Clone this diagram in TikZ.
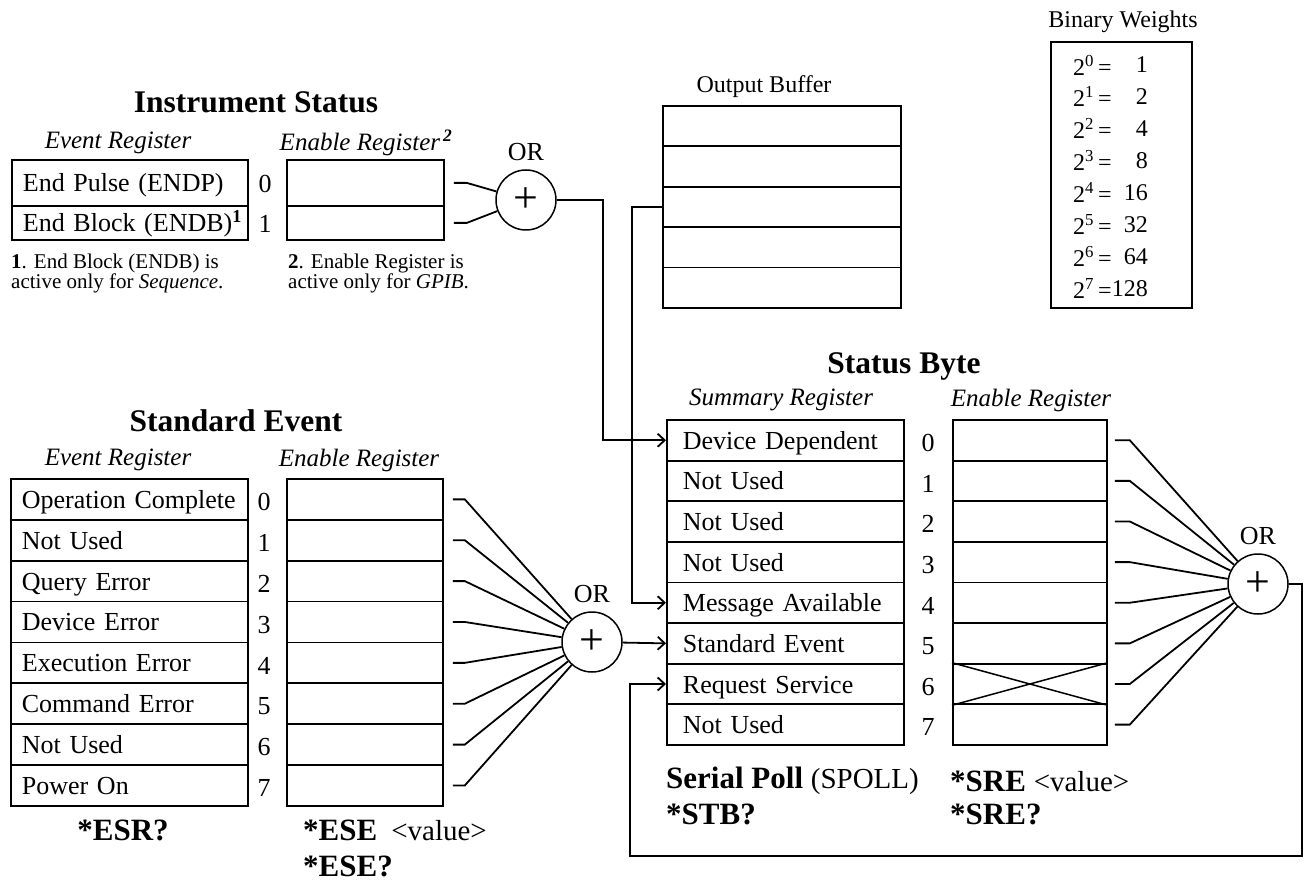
\documentclass[tikz,border=0pt]{standalone}
\usepackage{fontspec}
\setmainfont{Liberation Serif}
\usetikzlibrary{arrows.meta,positioning}

\newcommand\regfont{\fontsize{26}{28}\selectfont}
\newcommand\titlefont{\fontsize{31.5}{34}\selectfont\bfseries}
\newcommand\headfont{\fontsize{25}{28}\selectfont\itshape}
\newcommand\notefont{\fontsize{21}{20}\selectfont}
\newcommand\cmdfont{\fontsize{31}{38}\selectfont\bfseries}
\newcommand\cmdrm{\fontsize{29}{34}\selectfont\mdseries}
\newcommand\weightfont{\fontsize{24}{26}\selectfont}

\tikzset{
  namecell/.style 2 args={draw, line width=1.8pt, anchor=north west, font=\regfont,
    inner xsep=#2, inner ysep=0pt, text width=#1, align=left, minimum height=40.8pt,
    text height=20pt, text depth=2pt},
  blankcell/.style={draw, line width=1.8pt, anchor=north west, inner sep=0pt,
    minimum width=#1, minimum height=40.8pt},
  bitnum/.style={font=\regfont, inner sep=0pt},
  orgate/.style={circle, draw, line width=1.5pt, minimum size=60pt, inner sep=0pt,
    font=\fontsize{44}{44}\selectfont},
  orlabel/.style={font=\regfont, inner sep=0pt},
  wire/.style={line width=1.8pt},
  feed/.style={wire, -{Straight Barb[length=7pt,width=13pt]}},
  heading/.style={font=\titlefont, inner sep=0pt},
  regname/.style={font=\headfont, inner sep=0pt},
  note/.style={font=\notefont, align=left, anchor=north west, inner sep=0pt},
  command/.style={font=\cmdfont, anchor=west, inner sep=0pt},
  weight/.style={font=\weightfont, inner sep=0pt}
}

\begin{document}
\begin{tikzpicture}[x=1pt,y=-1pt]
            \useasboundingbox (0,0) rectangle (1306,882);

            \node[heading] (ishead) at (256,102) {Instrument Status};
            \node[regname] (isevname) at (118,143) {Event Register};
            \node[regname] (isenname) at (366,143) {Enable Register\textsuperscript{\,\textbf{2}}};
            \node[namecell={214pt}{11pt}, minimum height=46pt] (isev0) at (11,159) {\mbox{End Pulse (ENDP)}};
            \node[namecell={214pt}{11pt}, minimum height=34pt] (isev1) at (11,205) {\mbox{End Block (ENDB)\textsuperscript{\textbf{1}}}};
            \node[blankcell=157pt, minimum height=46pt] (isen0) at (286,159) {};
            \node[blankcell=157pt, minimum height=34pt] (isen1) at (286,205) {};
            \node[bitnum] (isn0) at (265,184) {0};
            \node[bitnum] (isn1) at (265,224) {1};
            \node[orgate] (isor) at (526,200) {+};
            \node[orlabel, above=8pt of isor] (isorname) {OR};
            \foreach \i in {0,1}
              \draw[wire] ([xshift=9pt]isen\i.east) -- ++(13pt,0) -- (isor);
            \node[note] (isnote1) at (11,254) {\textbf{1}. End Block (ENDB) is\\active only for \textit{Sequence}.};
            \node[note] (isnote2) at (288,254) {\textbf{2}. Enable Register is\\active only for \textit{GPIB}.};

            \node[weight] (obname) at (764,87) {Output Buffer};
            \foreach \i in {0,...,4}
              \node[blankcell=238pt, minimum height=40.4pt] (ob\i) at (662,{105+40.4*\i}) {};

            \node[weight] (bwname) at (1123,22) {Binary Weights};
            \node[draw, line width=1.8pt, anchor=north west, minimum width=141pt, minimum height=266pt, inner sep=0pt] (bwbox) at (1050,41) {};
            \foreach \e/\v [count=\k from 0] in {0/1,1/2,2/4,3/8,4/16,5/32,6/64,7/128} {
              \node[weight, anchor=west] (bw\e) at (1073,{65+31.9*\k}) {2\textsuperscript{\e}\,=};
              \node[weight, anchor=east] (bv\e) at (1148,{65+31.9*\k}) {\v};
            }

            \node[heading] (sehead) at (236,421) {Standard Event};
            \node[regname] (seevname) at (118,460) {Event Register};
            \node[regname] (seenname) at (359,460) {Enable Register};
            \foreach \t [count=\i from 0] in {Operation Complete,Not Used,Query Error,Device Error,Execution Error,Command Error,Not Used,Power On} {
              \node[namecell={215pt}{11pt}, minimum height=40.9pt] (seev\i) at (10,{478+40.875*\i}) {\t};
              \node[blankcell=156pt, minimum height=40.9pt] (seen\i) at (286,{478+40.875*\i}) {};
              \node[bitnum] (sen\i) at (264,{502+40.875*\i}) {\i};
            }
            \node[orgate] (seor) at (592,642) {+};
            \node[orlabel, above=8pt of seor] (seorname) {OR};
            \foreach \i in {0,...,7}
              \draw[wire] ([xshift=9pt]seen\i.east) -- ++(12pt,0) -- (seor);
            \node[command, anchor=center] (esr) at (123,830) {*ESR?};
            \node[command] (ese) at (303,830) {*ESE\hspace{14pt}{\cmdrm <value>}};
            \node[command] (eseq) at (303,866) {*ESE?};

            \node[heading] (sthead) at (904,366) {Status Byte};
            \node[regname] (stsumname) at (781,400) {Summary Register};
            \node[regname] (stenname) at (1031,400) {Enable Register};
            \foreach \t [count=\i from 0] in {Device Dependent,Not Used,Not Used,Not Used,Message Available,Standard Event,Request Service,Not Used} {
              \node[namecell={205pt}{16pt}, minimum height=40.7pt] (stat\i) at (666,{419+40.625*\i}) {\t};
              \node[blankcell=154pt, minimum height=40.7pt] (sten\i) at (952,{419+40.625*\i}) {};
              \node[bitnum] (stn\i) at (928,{443+40.625*\i}) {\i};
            }
            \draw[line width=1.5pt] (sten6.north west) -- (sten6.south east) (sten6.south west) -- (sten6.north east);
            \node[orgate] (stor) at (1258,584) {+};
            \node[orlabel, above=8pt of stor] (storname) {OR};
            \foreach \i in {0,...,7}
              \draw[wire] ([xshift=7pt]sten\i.east) -- ++(15pt,0) -- (stor);
            \node[command] (spoll) at (666,781) {Serial Poll {\cmdrm (SPOLL)}};
            \node[command] (stb) at (666,814) {*STB?};
            \node[command] (sre) at (950,781) {*SRE {\cmdrm <value>}};
            \node[command] (sreq) at (950,814) {*SRE?};

            \draw[feed] (isor.east) -- ++(46pt,0) |- (stat0.west);
            \draw[feed] (ob2.west) -- ++(-30pt,0) |- (stat4.west);
            \draw[feed] (seor) -- (stat5.west);
            \coordinate (fbright) at (1302,856);
            \coordinate (fbleft) at (630,856);
            \draw[feed] (stor.east) -| (fbright) -- (fbleft) |- (stat6.west);
        \end{tikzpicture}
\end{document}
